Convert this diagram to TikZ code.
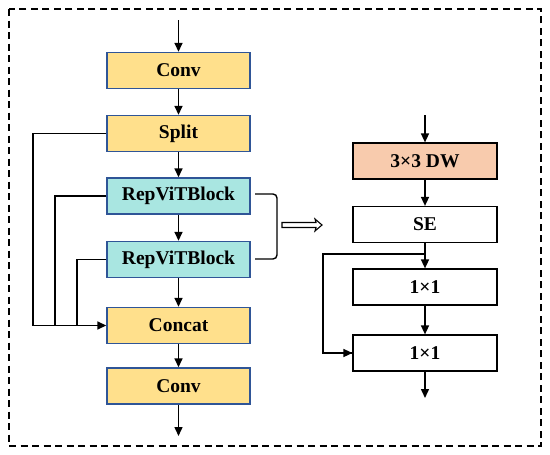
\documentclass[tikz,border=0pt]{standalone}
\usepackage{fontspec}
\setmainfont{Liberation Serif}
\usetikzlibrary{arrows.meta}
\definecolor{ylw}{HTML}{FFE08C}
\definecolor{cyn}{HTML}{A9E6E1}
\definecolor{org}{HTML}{F8CBAD}
\definecolor{bdr}{HTML}{2F5597}
\begin{document}
\begin{tikzpicture}[x=1pt,y=-1pt,
  lbox/.style={draw=bdr,line width=1.4pt,minimum width=143pt,minimum height=36pt,inner sep=0pt,font=\fontsize{19.5}{22}\selectfont\bfseries},
  rbox/.style={draw=black,line width=1.2pt,minimum width=144pt,minimum height=36pt,inner sep=0pt,font=\fontsize{19.5}{22}\selectfont\bfseries},
  arr/.style={line width=1.5pt,-{Triangle[length=9pt,width=8pt]}},
  ln/.style={line width=1.5pt}]
\useasboundingbox (0,0) rectangle (550,455);
\draw[line width=1.4pt,dash pattern=on 7pt off 4.5pt] (9,9) rectangle (541,446);
% left column
\node[lbox,fill=ylw] (conv1) at (178.5,70.5) {Conv};
\node[lbox,fill=ylw] (split) at (178.5,133.5) {Split};
\node[lbox,fill=cyn] (rep1) at (178.5,196) {RepViTBlock};
\node[lbox,fill=cyn] (rep2) at (178.5,259.5) {RepViTBlock};
\node[lbox,fill=ylw] (concat) at (178.5,325.5) {Concat};
\node[lbox,fill=ylw] (conv2) at (178.5,386) {Conv};
\coordinate (lin) at (178.5,20);
\coordinate (lout) at (178.5,436);
\draw[arr] (lin) -- (conv1);
\draw[arr] (conv1) -- (split);
\draw[arr] (split) -- (rep1);
\draw[arr] (rep1) -- (rep2);
\draw[arr] (rep2) -- (concat);
\draw[arr] (concat) -- (conv2);
\draw[arr] (conv2) -- (lout);
\draw[ln] (split.west) -| (33,325.5);
\draw[ln] (rep1.west) -| (55,325.5);
\draw[ln] (rep2.west) -| (77,325.5);
\draw[arr] (33,325.5) -- (concat.west);
% brace
\draw[line width=1.4pt,rounded corners=4pt] (255,194) -- (277,194) -- (277,259) -- (255,259);
% hollow block arrow
\draw[line width=1.1pt,line join=miter] (282,222.5) -- (316,222.5) -- (315,219) -- (322,225) -- (315,231) -- (316,227.5) -- (282,227.5) -- cycle;
% right column
\node[rbox,fill=org] (dw) at (425,161) {3×3 DW};
\node[rbox,fill=white] (se) at (425,224.5) {SE};
\node[rbox,fill=white] (c1) at (425,287) {1×1};
\node[rbox,fill=white] (c2) at (425,353) {1×1};
\coordinate (rin) at (425,115);
\coordinate (rout) at (425,398);
\draw[arr] (rin) -- (dw);
\draw[arr] (dw) -- (se);
\draw[arr] (se) -- (c1);
\draw[arr] (c1) -- (c2);
\draw[arr] (c2) -- (rout);
\coordinate (j) at (425,254);
\draw[ln] (j) -- (323,254) |- (c2.west);
\draw[arr] (323,353) -- (c2.west);
\end{tikzpicture}
\end{document}
